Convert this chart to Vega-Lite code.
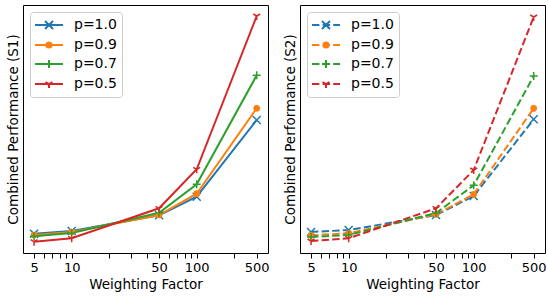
{
  "$schema": "https://vega.github.io/schema/vega-lite/v6.json",
  "padding": {"left": 5, "right": 6, "top": 4, "bottom": 5},
  "spacing": 12,
  "data": {"values": [
    {"panel": "S1", "p": "p=1.0", "w": 5, "v": 0.193}, {"panel": "S1", "p": "p=1.0", "w": 10, "v": 0.22}, {"panel": "S1", "p": "p=1.0", "w": 50, "v": 0.377}, {"panel": "S1", "p": "p=1.0", "w": 100, "v": 0.563}, {"panel": "S1", "p": "p=1.0", "w": 500, "v": 1.33},
    {"panel": "S1", "p": "p=0.9", "w": 5, "v": 0.18}, {"panel": "S1", "p": "p=0.9", "w": 10, "v": 0.21}, {"panel": "S1", "p": "p=0.9", "w": 50, "v": 0.38}, {"panel": "S1", "p": "p=0.9", "w": 100, "v": 0.593}, {"panel": "S1", "p": "p=0.9", "w": 500, "v": 1.447},
    {"panel": "S1", "p": "p=0.7", "w": 5, "v": 0.167}, {"panel": "S1", "p": "p=0.7", "w": 10, "v": 0.2}, {"panel": "S1", "p": "p=0.7", "w": 50, "v": 0.403}, {"panel": "S1", "p": "p=0.7", "w": 100, "v": 0.687}, {"panel": "S1", "p": "p=0.7", "w": 500, "v": 1.777},
    {"panel": "S1", "p": "p=0.5", "w": 5, "v": 0.113}, {"panel": "S1", "p": "p=0.5", "w": 10, "v": 0.147}, {"panel": "S1", "p": "p=0.5", "w": 50, "v": 0.447}, {"panel": "S1", "p": "p=0.5", "w": 100, "v": 0.837}, {"panel": "S1", "p": "p=0.5", "w": 500, "v": 2.37},
    {"panel": "S2", "p": "p=1.0", "w": 5, "v": 0.21}, {"panel": "S2", "p": "p=1.0", "w": 10, "v": 0.23}, {"panel": "S2", "p": "p=1.0", "w": 50, "v": 0.38}, {"panel": "S2", "p": "p=1.0", "w": 100, "v": 0.57}, {"panel": "S2", "p": "p=1.0", "w": 500, "v": 1.337},
    {"panel": "S2", "p": "p=0.9", "w": 5, "v": 0.177}, {"panel": "S2", "p": "p=0.9", "w": 10, "v": 0.197}, {"panel": "S2", "p": "p=0.9", "w": 50, "v": 0.387}, {"panel": "S2", "p": "p=0.9", "w": 100, "v": 0.587}, {"panel": "S2", "p": "p=0.9", "w": 500, "v": 1.447},
    {"panel": "S2", "p": "p=0.7", "w": 5, "v": 0.16}, {"panel": "S2", "p": "p=0.7", "w": 10, "v": 0.18}, {"panel": "S2", "p": "p=0.7", "w": 50, "v": 0.4}, {"panel": "S2", "p": "p=0.7", "w": 100, "v": 0.677}, {"panel": "S2", "p": "p=0.7", "w": 500, "v": 1.77},
    {"panel": "S2", "p": "p=0.5", "w": 5, "v": 0.12}, {"panel": "S2", "p": "p=0.5", "w": 10, "v": 0.147}, {"panel": "S2", "p": "p=0.5", "w": 50, "v": 0.447}, {"panel": "S2", "p": "p=0.5", "w": 100, "v": 0.83}, {"panel": "S2", "p": "p=0.5", "w": 500, "v": 2.36}
  ]},
  "resolve": {
    "scale": {"color": "independent", "fill": "independent", "stroke": "independent", "shape": "independent"},
    "legend": {"color": "independent", "fill": "independent", "stroke": "independent", "shape": "independent"}
  },
  "hconcat": [
    {
      "width": 245, "height": 248,
      "transform": [{"filter": "datum.panel === 'S1'"}],
      "encoding": {
        "x": {"field": "w", "type": "quantitative",
          "scale": {"type": "log", "domain": [4.08, 100, 500, 677], "range": [0, 173.7, 233.7, 245], "nice": false},
          "axis": {"title": "Weighting Factor", "values": [5, 6, 7, 8, 9, 10, 20, 30, 40, 50, 60, 70, 80, 90, 100, 274, 500], "format": "d",
            "labelExpr": "indexof([5,10,50,100,500], datum.value) >= 0 ? datum.label : ''",
            "labelOverlap": false, "labelFlush": false, "tickSize": 5, "labelPadding": 3, "titlePadding": 3,
            "encode": {"ticks": {"update": {"y2": {"signal": "indexof([5,10,50,100,500], datum.value) >= 0 ? 5 : 3"}}}}}
        },
        "y": {"field": "v", "type": "quantitative",
          "scale": {"domain": [0, 2.48], "nice": false, "zero": false},
          "axis": {"title": "Combined Performance (S1)", "ticks": false, "labels": false, "titlePadding": 3}}
      },
      "layer": [
        {"mark": {"type": "line", "strokeWidth": 2},
         "encoding": {"color": {"field": "p", "type": "nominal", "scale": {"domain": ["p=1.0", "p=0.9", "p=0.7", "p=0.5"], "range": ["#1f77b4", "#ff7f0e", "#2ca02c", "#d62728"]},
           "legend": {"title": null, "orient": "top-left", "offset": 7, "zindex": 1, "symbolSize": 196, "symbolStrokeWidth": 2, "labelOffset": 23, "rowPadding": 4, "padding": 5, "labelFontSize": 14,
             "fillColor": "rgba(255,255,255,0.8)", "strokeColor": "#cccccc", "cornerRadius": 3,
             "encode": {"symbols": {"update": {"shape": {"signal": "datum.value === 'p=1.0' ? 'M-1.143,0H2.857M0.286,-0.571L1.428,0.571M0.286,0.571L1.428,-0.571' : datum.value === 'p=0.9' ? 'M-1.143,0H2.857M1.228,0A0.371,0.371 0 1,1 0.486,0A0.371,0.371 0 1,1 1.228,0Z' : datum.value === 'p=0.7' ? 'M-1.143,0H2.857M0.286,0H1.428M0.857,-0.571V0.571' : 'M-1.143,0H2.857M0.857,0V0.571M0.857,0L0.362,-0.286M0.857,0L1.352,-0.286'"}}}}}}}},
        {"mark": {"type": "point", "filled": true, "opacity": 1, "strokeWidth": 1.5, "size": 64},
         "encoding": {
           "shape": {"field": "p", "type": "nominal", "scale": {"domain": ["p=0.5", "p=0.7", "p=0.9", "p=1.0"], "range": ["M0,0V1M0,0L-0.866,-0.5M0,0L0.866,-0.5", "M-1,0H1M0,-1V1", "M0.65,0A0.65,0.65 0 1,1 -0.65,0A0.65,0.65 0 1,1 0.65,0Z", "M-1,-1L1,1M-1,1L1,-1"]}, "legend": null},
           "fill": {"field": "p", "type": "nominal", "scale": {"domain": ["p=1.0", "p=0.9", "p=0.7", "p=0.5"], "range": ["#1f77b4", "#ff7f0e", "#2ca02c", "#d62728"]}, "legend": null},
           "stroke": {"field": "p", "type": "nominal", "scale": {"domain": ["p=1.0", "p=0.9", "p=0.7", "p=0.5"], "range": ["#1f77b4", "#ff7f0e", "#2ca02c", "#d62728"]}, "legend": null}
         }}
      ]
    },
    {
      "width": 245, "height": 248,
      "transform": [{"filter": "datum.panel === 'S2'"}],
      "encoding": {
        "x": {"field": "w", "type": "quantitative",
          "scale": {"type": "log", "domain": [4.08, 100, 500, 677], "range": [0, 173.7, 233.7, 245], "nice": false},
          "axis": {"title": "Weighting Factor", "values": [5, 6, 7, 8, 9, 10, 20, 30, 40, 50, 60, 70, 80, 90, 100, 274, 500], "format": "d",
            "labelExpr": "indexof([5,10,50,100,500], datum.value) >= 0 ? datum.label : ''",
            "labelOverlap": false, "labelFlush": false, "tickSize": 5, "labelPadding": 3, "titlePadding": 3,
            "encode": {"ticks": {"update": {"y2": {"signal": "indexof([5,10,50,100,500], datum.value) >= 0 ? 5 : 3"}}}}}
        },
        "y": {"field": "v", "type": "quantitative",
          "scale": {"domain": [0, 2.48], "nice": false, "zero": false},
          "axis": {"title": "Combined Performance (S2)", "ticks": false, "labels": false, "titlePadding": 3}}
      },
      "layer": [
        {"mark": {"type": "line", "strokeWidth": 2, "strokeDash": [7.4, 3.2]},
         "encoding": {"color": {"field": "p", "type": "nominal", "scale": {"domain": ["p=1.0", "p=0.9", "p=0.7", "p=0.5"], "range": ["#1f77b4", "#ff7f0e", "#2ca02c", "#d62728"]},
           "legend": {"title": null, "orient": "top-left", "offset": 7, "zindex": 1, "symbolSize": 196, "symbolStrokeWidth": 2, "labelOffset": 23, "rowPadding": 4, "padding": 5, "labelFontSize": 14,
             "fillColor": "rgba(255,255,255,0.8)", "strokeColor": "#cccccc", "cornerRadius": 3,
             "encode": {"symbols": {"update": {"shape": {"signal": "datum.value === 'p=1.0' ? 'M-1.143,0H-0.086M0.371,0H1.429M1.886,0H2.857M0.286,-0.571L1.428,0.571M0.286,0.571L1.428,-0.571' : datum.value === 'p=0.9' ? 'M-1.143,0H-0.086M0.371,0H1.429M1.886,0H2.857M1.228,0A0.371,0.371 0 1,1 0.486,0A0.371,0.371 0 1,1 1.228,0Z' : datum.value === 'p=0.7' ? 'M-1.143,0H-0.086M0.371,0H1.429M1.886,0H2.857M0.286,0H1.428M0.857,-0.571V0.571' : 'M-1.143,0H-0.086M0.371,0H1.429M1.886,0H2.857M0.857,0V0.571M0.857,0L0.362,-0.286M0.857,0L1.352,-0.286'"}}}}}}}},
        {"mark": {"type": "point", "filled": true, "opacity": 1, "strokeWidth": 1.5, "size": 64},
         "encoding": {
           "shape": {"field": "p", "type": "nominal", "scale": {"domain": ["p=0.5", "p=0.7", "p=0.9", "p=1.0"], "range": ["M0,0V1M0,0L-0.866,-0.5M0,0L0.866,-0.5", "M-1,0H1M0,-1V1", "M0.65,0A0.65,0.65 0 1,1 -0.65,0A0.65,0.65 0 1,1 0.65,0Z", "M-1,-1L1,1M-1,1L1,-1"]}, "legend": null},
           "fill": {"field": "p", "type": "nominal", "scale": {"domain": ["p=1.0", "p=0.9", "p=0.7", "p=0.5"], "range": ["#1f77b4", "#ff7f0e", "#2ca02c", "#d62728"]}, "legend": null},
           "stroke": {"field": "p", "type": "nominal", "scale": {"domain": ["p=1.0", "p=0.9", "p=0.7", "p=0.5"], "range": ["#1f77b4", "#ff7f0e", "#2ca02c", "#d62728"]}, "legend": null}
         }}
      ]
    }
  ],
  "config": {
    "font": "DejaVu Sans",
    "view": {"stroke": "black", "strokeWidth": 1},
    "axis": {"labelFont": "DejaVu Sans", "titleFont": "DejaVu Sans", "labelColor": "black", "titleColor": "black", "titleFontWeight": "normal", "labelFontSize": 13, "titleFontSize": 13.5, "tickColor": "black", "grid": false, "domain": false},
    "legend": {"labelFont": "DejaVu Sans", "labelFontSize": 14, "labelColor": "black"}
  }
}
